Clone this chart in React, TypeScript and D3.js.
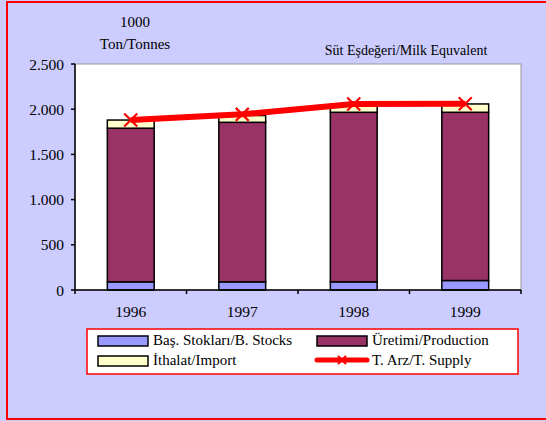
import React from "react";
import * as d3 from "d3";

const years = ["1996", "1997", "1998", "1999"];
const stocks = [90, 90, 90, 105];
const production = [1700, 1765, 1876, 1861];
const imports = [90, 75, 90, 92];
const supply = [1880, 1943, 2058, 2060];
const yTicks = [0, 500, 1000, 1500, 2000, 2500];

const seriesNames = ["Baş. Stokları/B. Stocks", "Üretimi/Production", "İthalat/Import", "T. Arz/T. Supply"];
const colors = ["#9999FF", "#993366", "#FFFFCC"];

const W = 546, H = 421;
const left = 75, right = 521, top = 64, bottom = 290;
const font = "Liberation Serif";

export default function App() {
  const x = d3.scaleBand<string>().domain(years).range([left, right]).paddingInner(0.58).paddingOuter(0.29);
  const xb = d3.scaleBand<string>().domain(years).range([left, right]);
  const y = d3.scaleLinear().domain([0, 2500]).range([bottom, top]);
  const fmt = (v: number) => d3.format(",")(v).replace(/,/g, ".");

  const rows = years.map((yr, i) => ({ yr, s: stocks[i], p: production[i], m: imports[i] }));
  const stack = d3.stack<any>().keys(["s", "p", "m"])(rows);

  const line = d3.line<number>().x((_, i) => xb(years[i])! + xb.bandwidth() / 2).y((d) => y(d));

  const cross = (cx: number, cy: number, r: number, key: string) => (
    <g key={key} stroke="#FF0000" strokeWidth={2.2}>
      <line x1={cx - r} y1={cy - r} x2={cx + r} y2={cy + r} />
      <line x1={cx - r} y1={cy + r} x2={cx + r} y2={cy - r} />
    </g>
  );
  const ts = { fontFamily: font, fill: "#000" } as React.CSSProperties;

  return (
    <svg width={W} height={H} style={{ position: "absolute", left: 0, top: 0 }}>
      <rect x={0} y={0} width={W} height={H} fill="#CCCCFF" />
      <rect x={7} y={2} width={W + 5} height={417} fill="#CCCCFF" stroke="#FF0000" strokeWidth={2} />
      <rect x={left} y={top} width={right - left} height={bottom - top} fill="#FFFFFF" stroke="#999999" strokeWidth={1} />

      <text style={ts} x={135} y={27} fontSize={15} textAnchor="middle">1000</text>
      <text style={ts} x={135} y={49} fontSize={15} textAnchor="middle">Ton/Tonnes</text>
      <text style={ts} x={406} y={55} fontSize={14} textAnchor="middle">Süt Eşdeğeri/Milk Equvalent</text>

      {stack.map((layer, li) =>
        layer.map((d, i) => (
          <rect key={`${li}-${i}`} x={x(years[i])} y={y(d[1])} width={x.bandwidth()} height={y(d[0]) - y(d[1])}
            fill={colors[li]} stroke="#000" strokeWidth={1.5} />
        ))
      )}

      <line x1={left} y1={top} x2={left} y2={bottom} stroke="#000" strokeWidth={1.5} />
      {yTicks.map((t) => (
        <g key={t}>
          <line x1={left - 4} x2={left} y1={y(t)} y2={y(t)} stroke="#000" strokeWidth={1.5} />
          <text style={ts} x={left - 11} y={y(t) + 5.5} fontSize={15.5} textAnchor="end">{fmt(t)}</text>
        </g>
      ))}
      <line x1={left} y1={bottom} x2={right} y2={bottom} stroke="#000" strokeWidth={1.5} />
      {years.map((yr) => (
        <g key={yr}>
          <line x1={xb(yr)!} x2={xb(yr)!} y1={bottom} y2={bottom + 4} stroke="#000" strokeWidth={1.5} />
          <text style={ts} x={xb(yr)! + xb.bandwidth() / 2} y={317} fontSize={15.5} textAnchor="middle">{yr}</text>
        </g>
      ))}
      <line x1={right} x2={right} y1={bottom} y2={bottom + 4} stroke="#000" strokeWidth={1.5} />

      <path d={line(supply)!} fill="none" stroke="#FF0000" strokeWidth={6} strokeLinejoin="round" />
      {supply.map((v, i) => cross(xb(years[i])! + xb.bandwidth() / 2, y(v), 6.5, "c" + i))}

      <rect x={87} y={329} width={431} height={45} fill="#FFFFFF" stroke="#FF0000" strokeWidth={1.5} />
      <rect x={98} y={336} width={50} height={10} fill={colors[0]} stroke="#000" strokeWidth={1.5} />
      <text style={ts} x={153} y={345} fontSize={15}>{seriesNames[0]}</text>
      <rect x={317} y={336} width={50} height={10} fill={colors[1]} stroke="#000" strokeWidth={1.5} />
      <text style={ts} x={372} y={345} fontSize={15}>{seriesNames[1]}</text>
      <rect x={98} y={356} width={50} height={10} fill={colors[2]} stroke="#000" strokeWidth={1.5} />
      <text style={ts} x={153} y={365} fontSize={15}>{seriesNames[2]}</text>
      <line x1={317} x2={367} y1={360} y2={360} stroke="#FF0000" strokeWidth={5} strokeLinecap="round" />
      {cross(342, 360, 4, "lg")}
      <text style={ts} x={372} y={365} fontSize={15}>{seriesNames[3]}</text>
    </svg>
  );
}
